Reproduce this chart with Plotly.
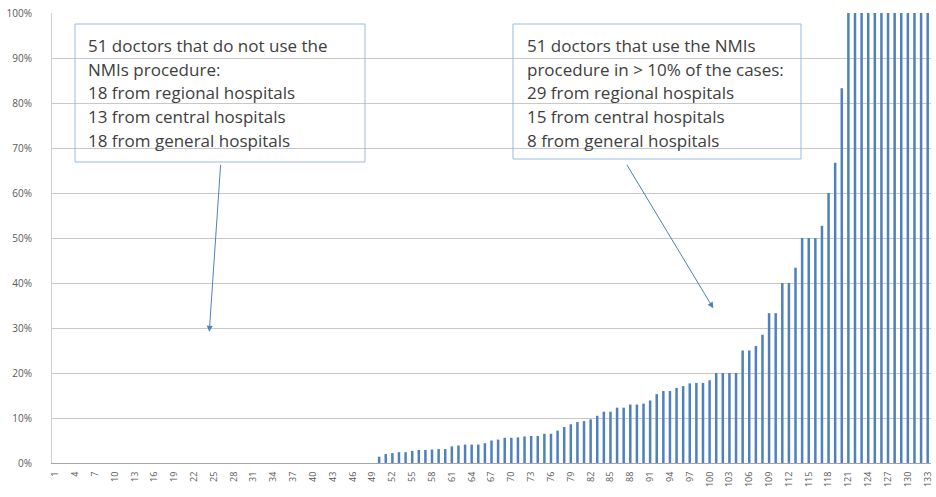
import plotly.graph_objects as go

# ---- data ----
doctors = list(range(1, 134))
zero_share = [0.0] * 49
nonzero_share = [
    1.4, 2.0, 2.2, 2.4, 2.4, 2.7, 2.9, 2.9, 3.0, 3.1, 3.1, 3.7, 3.9, 4.1, 4.1, 4.1,
    4.4, 5.0, 5.2, 5.6, 5.6, 5.7, 5.9, 6.0, 6.0, 6.5, 6.5,
    7.2, 8.0, 8.6, 9.1, 9.3, 9.7, 10.5, 11.4, 11.4, 12.3, 12.3, 13.0, 13.0, 13.2,
    13.9, 15.3, 16.0, 16.0, 16.7, 17.1, 17.7, 17.8, 17.8, 18.4,
    20.0, 20.0, 20.0, 20.0, 25.0, 25.0, 26.0, 28.5, 33.3, 33.3, 40.0, 40.0, 43.4,
    50.0, 50.0, 50.0, 52.7, 60.0, 66.7, 83.3,
    100, 100, 100, 100, 100, 100, 100, 100, 100, 100, 100, 100, 100,
]
nmi_share = zero_share + nonzero_share
tick_vals = doctors[::3]
tick_text = [str(v) for v in tick_vals]
y_ticks = list(range(0, 101, 10))

box1_lines = [
    "51 doctors that do not use the",
    "NMIs procedure:",
    "18 from regional hospitals",
    "13 from central hospitals",
    "18 from general hospitals",
]
box2_lines = [
    "51 doctors that use the NMIs",
    "procedure in > 10% of the cases:",
    "29 from regional hospitals",
    "15 from central hospitals",
    "8 from general hospitals",
]

# ---- layout helpers (pixel -> paper) ----
W, H = 936, 497
L, R, T, B = 52, 5, 13, 34
PW, PH = W - L - R, H - T - B


def px(x):
    return (x - L) / PW


def py(y):
    return (H - B - y) / PH


BLUE = "#4F81BD"
TEXT = "#404040"
FONT = "Open Sans"

fig = go.Figure(
    go.Bar(
        x=doctors,
        y=nmi_share,
        marker=dict(color=BLUE, line=dict(width=0)),
        hoverinfo="x+y",
    )
)

shapes = []
annotations = []
line_ys = [45.5, 69, 92.5, 116, 140]
for (x0, x1, y0, y1, tx, lines) in [
    (75, 365, 24, 162, 86, box1_lines),
    (513, 801, 24, 159, 525, box2_lines),
]:
    shapes.append(dict(
        type="rect", xref="paper", yref="paper",
        x0=px(x0), x1=px(x1), y0=py(y1), y1=py(y0),
        line=dict(color="#9DB9DF", width=1), fillcolor="rgba(0,0,0,0)",
        layer="above",
    ))
    for ly, txt in zip(line_ys, lines):
        annotations.append(dict(
            xref="paper", yref="paper", x=px(tx), y=py(ly),
            xanchor="left", yanchor="middle", showarrow=False,
            text=txt, font=dict(family=FONT, size=17, color=TEXT),
        ))

# arrows (tail -> head) in pixels
for (x_t, y_t, x_h, y_h) in [(220.7, 163.3, 209.3, 331.7), (626, 163.3, 713.3, 308.3)]:
    annotations.append(dict(
        xref="paper", yref="paper", axref="pixel", ayref="pixel",
        x=px(x_h), y=py(y_h), ax=x_t - x_h, ay=y_t - y_h,
        text="", showarrow=True, arrowhead=2, arrowsize=1.2, arrowwidth=1,
        arrowcolor=BLUE,
    ))

fig.update_layout(
    width=W, height=H,
    margin=dict(l=L, r=R, t=T, b=B, autoexpand=False),
    paper_bgcolor="white", plot_bgcolor="white",
    showlegend=False,
    bargap=0.62,
    shapes=shapes,
    annotations=annotations,
    font=dict(family=FONT, color="#595959"),
)
fig.update_xaxes(
    range=[0.5, 133.5], automargin=False,
    tickmode="array", tickvals=tick_vals, ticktext=tick_text,
    tickangle=-90, tickfont=dict(size=9, color="#595959", family=FONT),
    showgrid=False, showline=True, linecolor="#A6A6A6", linewidth=1,
    ticks="", ticklabelstandoff=4, ticklabeloverflow="allow", zeroline=False,
)
fig.update_yaxes(
    range=[0, 100], automargin=False,
    tickmode="array", tickvals=y_ticks, ticktext=[f"{v}%" for v in y_ticks],
    tickfont=dict(size=10, color="#595959", family=FONT),
    showgrid=True, gridcolor="#C8C8C8", gridwidth=1,
    showline=True, linecolor="#D0D0D0", linewidth=1,
    ticks="", ticklabelstandoff=17, zeroline=False,
)

fig.write_html(
    "out.html",
    config={"displayModeBar": False},
    post_script="document.body.style.margin='0';document.body.style.overflow='hidden';",
)
